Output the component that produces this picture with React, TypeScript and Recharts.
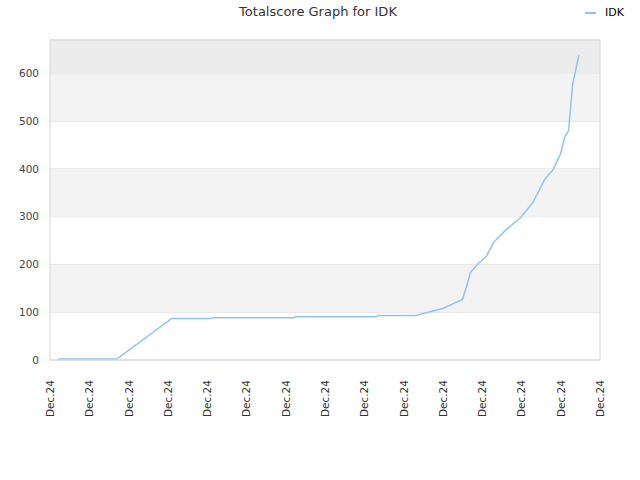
import { LineChart, Line, XAxis, YAxis, CartesianGrid, ReferenceArea, ReferenceLine } from 'recharts';

// x position is an index along the time axis (0..140), one tick every 10
const xs = [2, 17, 31, 41, 41.5, 62, 62.5, 83, 83.5, 93, 100, 105, 106, 107, 109, 111, 113, 116, 120, 123, 126, 128, 130, 131, 132, 133, 134.6];
const scores = [2, 2, 87, 87, 88.5, 88.5, 90.5, 90.5, 93, 93, 108, 127, 153, 183, 202, 216, 247, 272, 300, 331, 379, 398, 432, 467, 480, 575, 638];
const xTicks = [0, 10, 20, 30, 40, 50, 60, 70, 80, 90, 100, 110, 120, 130, 140];
const xLabel = 'Dec.24';
const yTicks = [0, 100, 200, 300, 400, 500, 600];

const data = xs.map((x, i) => ({ x, score: scores[i] }));

const font = '"DejaVu Sans", sans-serif';

function XTick({ x, y }: any) {
  return (
    <text
      x={x + 4}
      y={y + 12}
      transform={`rotate(-90, ${x + 4}, ${y + 12})`}
      textAnchor="end"
      fontSize={10.5}
      fontFamily={font}
      fill="#333"
    >
      {xLabel}
    </text>
  );
}

export default function App() {
  return (
    <div style={{ position: 'absolute', left: 0, top: 0, width: 640, height: 480, background: '#fff' }}>
      <div
        style={{
          position: 'absolute',
          top: 4,
          left: 0,
          width: 636,
          textAlign: 'center',
          fontFamily: font,
          fontSize: 13,
          color: '#333',
        }}
      >
        Totalscore Graph for IDK
      </div>
      <div style={{ position: 'absolute', top: 6, left: 585, fontFamily: font, fontSize: 11, color: '#000', display: 'flex', alignItems: 'center' }}>
        <span style={{ display: 'inline-block', width: 11, height: 2, background: '#90c2f2', marginRight: 9 }} />
        IDK
      </div>
      <LineChart width={640} height={480} data={data} margin={{ top: 40, right: 40, left: 0, bottom: 0 }}>
        <ReferenceArea y1={100} y2={200} fill="#f3f3f3" fillOpacity={1} ifOverflow="hidden" />
        <ReferenceArea y1={300} y2={400} fill="#f3f3f3" fillOpacity={1} ifOverflow="hidden" />
        <ReferenceArea y1={500} y2={600} fill="#f3f3f3" fillOpacity={1} ifOverflow="hidden" />
        <ReferenceArea y1={600} y2={670} fill="#ececec" fillOpacity={1} ifOverflow="hidden" />
        <CartesianGrid vertical={false} stroke="#dddddd" />
        <XAxis
          dataKey="x"
          type="number"
          domain={[0, 140]}
          ticks={xTicks}
          height={120}
          tick={<XTick />}
          tickLine={false}
          axisLine={{ stroke: '#d8d8d8' }}
          interval={0}
        />
        <YAxis
          type="number"
          domain={[0, 670]}
          ticks={yTicks}
          width={50}
          tickLine={false}
          tickMargin={5}
          axisLine={{ stroke: '#d8d8d8' }}
          tick={{ fontSize: 10.5, fontFamily: font, fill: '#444' }}
        />
        <ReferenceLine x={140} stroke="#d8d8d8" />
        <ReferenceLine y={670} stroke="#d8d8d8" />
        <Line
          type="linear"
          dataKey="score"
          stroke="#90c2f2"
          strokeWidth={1.5}
          dot={false}
          isAnimationActive={false}
        />
      </LineChart>
    </div>
  );
}
